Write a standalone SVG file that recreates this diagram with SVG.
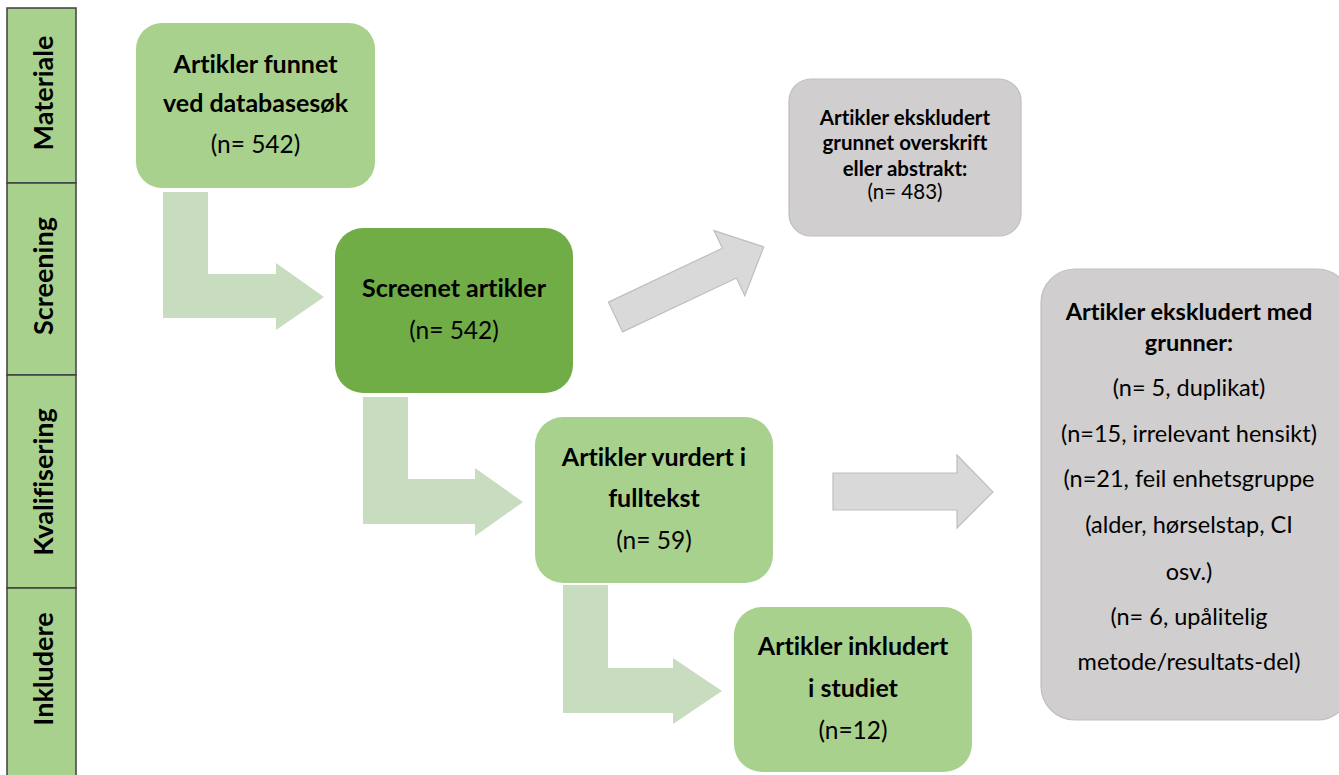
<svg xmlns="http://www.w3.org/2000/svg" width="1339" height="775" viewBox="0 0 1339 775">
<style>
.side{fill:#a9d18e;stroke:#3f3f3f;stroke-width:1.5}
.lg{fill:#a9d18e}
.dg{fill:#70ad47}
.gr{fill:#d0cece;stroke:#bfbfbf;stroke-width:1.2}
.ga{fill:#d9d9d9;stroke:#bfbfbf;stroke-width:1.2}
.ea{fill:#c8dcc0}
text{font-family:Lato,"Liberation Sans",sans-serif;fill:#000;text-anchor:middle;font-variant-ligatures:none}
.b{font-weight:bold;font-size:25px}
.r{font-size:24.5px}
.sb{font-weight:bold;font-size:20.5px}
.sr{font-size:20.5px}
.mb{font-weight:bold;font-size:23.5px}
.mr{font-size:23.5px}
.lab{font-weight:bold;font-size:27px}
</style>
<g id="sidebar">
<rect class="side" x="7" y="8" width="69" height="175"/>
<rect class="side" x="7" y="183" width="69" height="192"/>
<rect class="side" x="7" y="375" width="69" height="213"/>
<rect class="side" x="7" y="588" width="69" height="200"/>
<text class="lab" transform="translate(53,93) rotate(-90)">Materiale</text>
<text class="lab" transform="translate(53,276) rotate(-90)">Screening</text>
<text class="lab" transform="translate(53,482) rotate(-90)">Kvalifisering</text>
<text class="lab" transform="translate(53,669) rotate(-90)">Inkludere</text>
</g>
<g id="connectors">
<path class="ea" d="M163,192 H208 V274 H276 V263 L324,297 L276,330 V318 H163 Z"/>
<path class="ea" d="M363,397 H408 V479 H475 V468 L523,502 L475,536 V524 H363 Z"/>
<path class="ea" d="M563,585 H608 V668 H673 V658 L722,691 L673,724 V713 H563 Z"/>
<path class="ga" transform="translate(615.5,317) rotate(-25.3)" d="M0,-16.5 H126 V-36 L164,0 L126,36 V16.5 H0 Z"/>
<path class="ga" d="M833,473 H957 V455 L993,492 L957,528 V510 H833 Z"/>
</g>
<g id="node-found">
<rect class="lg" x="136" y="23" width="239" height="165" rx="26"/>
<text class="b" x="255.5" y="73">Artikler funnet</text>
<text class="b" x="255.5" y="112">ved databasesøk</text>
<text class="r" x="255.5" y="153">(n= 542)</text>
</g>
<g id="node-screened">
<rect class="dg" x="335" y="228" width="238" height="165" rx="28"/>
<text class="b" x="454" y="297">Screenet artikler</text>
<text class="r" x="454" y="339">(n= 542)</text>
</g>
<g id="node-fulltext">
<rect class="lg" x="535" y="417" width="238" height="166" rx="28"/>
<text class="b" x="654" y="466">Artikler vurdert i</text>
<text class="b" x="654" y="507">fulltekst</text>
<text class="r" x="654" y="549">(n= 59)</text>
</g>
<g id="node-included">
<rect class="lg" x="734" y="607" width="238" height="165" rx="28"/>
<text class="b" x="853" y="655">Artikler inkludert</text>
<text class="b" x="853" y="697">i studiet</text>
<text class="r" x="853" y="739">(n=12)</text>
</g>
<g id="node-excluded-abstract">
<rect class="gr" x="789" y="79" width="232" height="157" rx="22"/>
<text class="sb" x="905" y="125">Artikler ekskludert</text>
<text class="sb" x="905" y="150">grunnet overskrift</text>
<text class="sb" x="905" y="176">eller abstrakt:</text>
<text class="sr" x="905" y="199">(n= 483)</text>
</g>
<g id="node-excluded-reasons">
<rect class="gr" x="1041" y="269" width="310" height="451" rx="34"/>
<text class="mb" x="1189" y="320">Artikler ekskludert med</text>
<text class="mb" x="1189" y="351">grunner:</text>
<text class="mr" x="1189" y="396">(n= 5, duplikat)</text>
<text class="mr" x="1189" y="442">(n=15, irrelevant hensikt)</text>
<text class="mr" x="1189" y="487">(n=21, feil enhetsgruppe</text>
<text class="mr" x="1189" y="533">(alder, hørselstap, CI</text>
<text class="mr" x="1189" y="580">osv.)</text>
<text class="mr" x="1189" y="625">(n= 6, upålitelig</text>
<text class="mr" x="1189" y="670">metode/resultats-del)</text>
</g>
</svg>
